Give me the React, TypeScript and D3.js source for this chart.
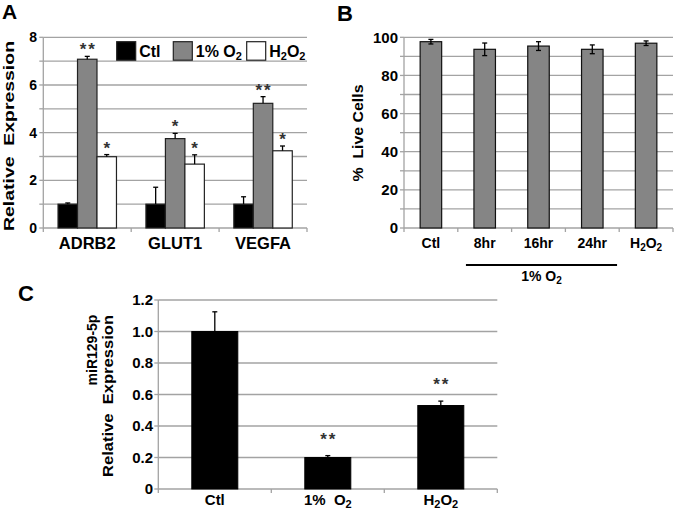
import React from 'react';
import * as d3 from 'd3';

// ---------- Panel A data ----------
const genesA = ['ADRB2', 'GLUT1', 'VEGFA'];
const seriesA = ['Ctl', '1% O_2', 'H_2O_2'];
const ctlA = [1.0, 1.0, 1.0];
const ctlErrA = [0.05, 0.71, 0.31];
const hypoxiaA = [7.08, 3.75, 5.23];
const hypoxiaErrA = [0.12, 0.22, 0.28];
const h2o2A = [2.99, 2.68, 3.24];
const h2o2ErrA = [0.09, 0.39, 0.2];
const ctlStarsA = ['', '', ''];
const hypoxiaStarsA = ['**', '*', '**'];
const h2o2StarsA = ['*', '*', '*'];
const yTicksA = [0, 1, 2, 3, 4, 5, 6, 7, 8];

// ---------- Panel B data ----------
const conditionsB = ['Ctl', '8hr', '16hr', '24hr', 'H_2O_2'];
const liveB = [97.7, 93.7, 95.4, 93.7, 96.9];
const liveErrB = [1.2, 3.3, 2.3, 2.3, 1.2];
const yTicksB = [0, 10, 20, 30, 40, 50, 60, 70, 80, 90, 100];

// ---------- Panel C data ----------
const conditionsC = ['Ctl', '1%  O_2', 'H_2O_2'];
const mirC = [1.0, 0.2, 0.53];
const mirErrC = [0.125, 0.012, 0.028];
const starsC = ['', '**', '**'];
const yTicksC = [0, 0.2, 0.4, 0.6, 0.8, 1.0, 1.2];

const FONT = '"Liberation Sans", Arial, Helvetica, sans-serif';
const GRID = '#a3a3a3';

function Chem({ s, sub = 10, shift = 4 }: { s: string; sub?: number; shift?: number }) {
  const parts = s.split(/_(\d)/);
  const out: React.ReactNode[] = [];
  let down = false;
  parts.forEach((p, i) => {
    if (p === '') return;
    if (i % 2 === 1) {
      out.push(
        <tspan key={i} fontSize={sub} dy={down ? 0 : shift}>{p}</tspan>
      );
      down = true;
    } else {
      out.push(
        <tspan key={i} dy={down ? -shift : 0} style={{ whiteSpace: 'pre' }}>{p}</tspan>
      );
      down = false;
    }
  });
  return <>{out}</>;
}

function YGrid({ y, ticks, x0, x1, labelTicks, fmt, fontSize, labelX }: any) {
  return (
    <g>
      {ticks.map((t: number) => (
        <g key={t}>
          {t !== 0 && <line x1={x0} x2={x1} y1={y(t)} y2={y(t)} stroke={GRID} strokeWidth={1.3} />}
          <line x1={x0 - 4} x2={x0} y1={y(t)} y2={y(t)} stroke={GRID} strokeWidth={1.3} />
        </g>
      ))}
      {labelTicks.map((t: number) => (
        <text key={'l' + t} x={labelX} y={y(t)} dy="0.36em" textAnchor="end" fontSize={fontSize}
          fontWeight="bold" fontFamily={FONT}>{fmt(t)}</text>
      ))}
      <line x1={x0} x2={x0} y1={y(ticks[ticks.length - 1])} y2={y(0)} stroke={GRID} strokeWidth={1.3} />
    </g>
  );
}

function XBase({ x, domain, y0, x0, x1 }: any) {
  const step = x.step();
  const starts = domain.map((d: string) => x(d) - (step - x.bandwidth()) / 2);
  const bounds = [...starts, x1];
  return (
    <g>
      <line x1={x0} x2={x1} y1={y0} y2={y0} stroke={GRID} strokeWidth={1.3} />
      {bounds.map((b: number, i: number) => (
        <line key={i} x1={b} x2={b} y1={y0} y2={y0 + 4} stroke={GRID} strokeWidth={1.3} />
      ))}
    </g>
  );
}

function ErrBar({ cx, yTop, yBot, cap = 5, both = false, yMid }: any) {
  return (
    <g stroke="#000" strokeWidth={1.3}>
      <line x1={cx} x2={cx} y1={yTop} y2={both ? yBot : yMid} />
      <line x1={cx - cap / 2} x2={cx + cap / 2} y1={yTop} y2={yTop} />
      {both && <line x1={cx - cap / 2} x2={cx + cap / 2} y1={yBot} y2={yBot} />}
    </g>
  );
}

function PanelA() {
  const L = 43.3, R = 307, T = 37.3, B = 228;
  const y = d3.scaleLinear().domain([0, 8]).range([B, T]);
  const x0 = d3.scaleBand().domain(genesA).range([L, R]).paddingInner(0).paddingOuter(0);
  const x1 = d3.scaleBand().domain(seriesA).range([0, x0.bandwidth()]).paddingInner(0).paddingOuter(0.756);
  const fills = ['#000000', '#858585', '#ffffff'];
  const vals = [ctlA, hypoxiaA, h2o2A];
  const errs = [ctlErrA, hypoxiaErrA, h2o2ErrA];
  const stars = [ctlStarsA, hypoxiaStarsA, h2o2StarsA];
  const legendX = [116.7, 173.3, 246.7];
  return (
    <g>
      <text x={2} y={19} fontSize={21} fontWeight="bold" fontFamily={FONT}>A</text>
      <YGrid y={y} ticks={yTicksA} x0={L} x1={R} labelTicks={[0, 2, 4, 6, 8]} fmt={(d: number) => String(d)}
        fontSize={14} labelX={37} />
      <XBase x={x0} domain={genesA} y0={B} x0={L} x1={R} />
      {genesA.map((g, gi) => (
        <g key={g}>
          {seriesA.map((s, si) => {
            const bx = (x0(g) as number) + (x1(s) as number);
            const bw = x1.bandwidth();
            const v = vals[si][gi];
            const e = errs[si][gi];
            const cx = bx + bw / 2;
            return (
              <g key={s}>
                <rect x={bx} y={y(v)} width={bw} height={B - y(v)} fill={fills[si]} stroke="#222" strokeWidth={1.2} />
                <ErrBar cx={cx} yTop={y(v + e)} yMid={y(v)} cap={5} />
                {stars[si][gi] && (
                  <text x={cx + 1} y={y(v + e) - 1} textAnchor="middle" fontSize={17} fontWeight="bold"
                    fontFamily={FONT} letterSpacing={2} fill="#333">{stars[si][gi]}</text>
                )}
              </g>
            );
          })}
          <text x={(x0(g) as number) + x0.bandwidth() / 2} y={249} textAnchor="middle" fontSize={16.5}
            fontWeight="bold" fontFamily={FONT}>{g}</text>
        </g>
      ))}
      {seriesA.map((s, si) => (
        <g key={'lg' + s}>
          <rect x={legendX[si]} y={41.7} width={19} height={18.5} fill={fills[si]} stroke="#222" strokeWidth={1.2} />
          <text x={legendX[si] + 22.5} y={56.5} fontSize={16} fontWeight="bold" fontFamily={FONT}>
            <Chem s={s} sub={11} shift={3} />
          </text>
        </g>
      ))}
      <text transform="translate(14,136) rotate(-90)" textAnchor="middle" fontSize={15} fontWeight="bold"
        fontFamily={FONT} textLength={190} lengthAdjust="spacingAndGlyphs" style={{ whiteSpace: 'pre' }}>
        Relative  Expression
      </text>
    </g>
  );
}

function PanelB() {
  const L = 404, R = 673, T = 37.3, B = 228;
  const y = d3.scaleLinear().domain([0, 100]).range([B, T]);
  const x = d3.scaleBand().domain(conditionsB).range([L, R]).paddingInner(0.6).paddingOuter(0.3);
  const bw = x.bandwidth();
  const x8 = x('8hr') as number;
  const x24 = x('24hr') as number;
  return (
    <g>
      <text x={337} y={21} fontSize={22} fontWeight="bold" fontFamily={FONT}>B</text>
      <YGrid y={y} ticks={yTicksB} x0={L} x1={R} labelTicks={[0, 20, 40, 60, 80, 100]}
        fmt={(d: number) => String(d)} fontSize={15} labelX={398} />
      <XBase x={x} domain={conditionsB} y0={B} x0={L} x1={R} />
      {conditionsB.map((c, i) => {
        const bx = x(c) as number;
        const cx = bx + bw / 2;
        return (
          <g key={c}>
            <rect x={bx} y={y(liveB[i])} width={bw} height={B - y(liveB[i])} fill="#858585" stroke="#111"
              strokeWidth={1.2} />
            <ErrBar cx={cx} yTop={y(liveB[i] + liveErrB[i])} yBot={y(liveB[i] - liveErrB[i])} both cap={5} />
            <text x={cx} y={247.7} textAnchor="middle" fontSize={14} fontWeight="bold" fontFamily={FONT}>
              <Chem s={c} sub={10} shift={3} />
            </text>
          </g>
        );
      })}
      <line x1={x8 - 8} x2={x24 + bw + 14} y1={265} y2={265} stroke="#000" strokeWidth={2} />
      <text x={(x8 - 8 + x24 + bw + 14) / 2} y={281} textAnchor="middle" fontSize={14} fontWeight="bold"
        fontFamily={FONT}><Chem s="1% O_2" sub={10} shift={3} /></text>
      <text transform="translate(363,133) rotate(-90)" textAnchor="middle" fontSize={15} fontWeight="bold"
        fontFamily={FONT} textLength={97} lengthAdjust="spacingAndGlyphs" style={{ whiteSpace: 'pre' }}>
        %  Live Cells
      </text>
    </g>
  );
}

function PanelC() {
  const L = 158.3, R = 497.3, T = 300, B = 489;
  const y = d3.scaleLinear().domain([0, 1.2]).range([B, T]);
  const x = d3.scaleBand().domain(conditionsC).range([L, R]).paddingInner(0.593).paddingOuter(0.2965);
  const bw = x.bandwidth();
  return (
    <g>
      <text x={18} y={301} fontSize={22} fontWeight="bold" fontFamily={FONT}>C</text>
      <YGrid y={y} ticks={yTicksC} x0={L} x1={R} labelTicks={yTicksC}
        fmt={(d: number) => (d === 0 ? '0' : d.toFixed(1))} fontSize={15} labelX={153} />
      <XBase x={x} domain={conditionsC} y0={B} x0={L} x1={R} />
      {conditionsC.map((c, i) => {
        const bx = x(c) as number;
        const cx = bx + bw / 2;
        const top = y(mirC[i] + mirErrC[i]);
        return (
          <g key={c}>
            <rect x={bx} y={y(mirC[i])} width={bw} height={B - y(mirC[i])} fill="#000" stroke="#000" />
            <ErrBar cx={cx} yTop={top} yMid={y(mirC[i])} cap={5} />
            {starsC[i] && (
              <text x={cx + 1} y={top - 11} textAnchor="middle" fontSize={17} fontWeight="bold" fontFamily={FONT}
                letterSpacing={2} fill="#333">{starsC[i]}</text>
            )}
            <text x={cx} y={505} textAnchor="middle" fontSize={15} fontWeight="bold" fontFamily={FONT}>
              <Chem s={c} sub={11} shift={3} />
            </text>
          </g>
        );
      })}
      <text transform="translate(97,350) rotate(-90)" textAnchor="middle" fontSize={14} fontWeight="bold"
        fontFamily={FONT}>miR129-5p</text>
      <text transform="translate(113,396) rotate(-90)" textAnchor="middle" fontSize={14} fontWeight="bold"
        fontFamily={FONT} textLength={162} lengthAdjust="spacingAndGlyphs" style={{ whiteSpace: 'pre' }}>
        Relative  Expression
      </text>
    </g>
  );
}

export default function App() {
  return (
    <svg width={675} height={516} viewBox="0 0 675 516"
      style={{ position: 'absolute', left: 0, top: 0, background: '#fff' }}>
      <rect width={675} height={516} fill="#fff" />
      <PanelA />
      <PanelB />
      <PanelC />
    </svg>
  );
}
